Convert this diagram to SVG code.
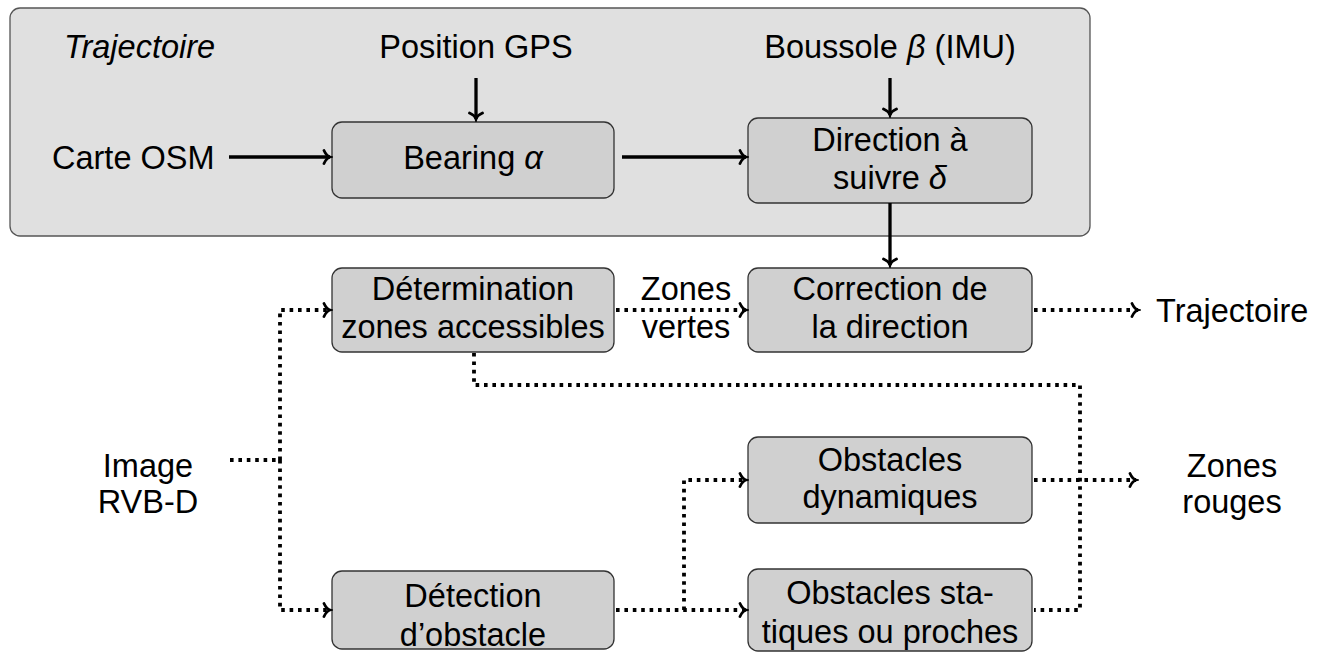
<svg xmlns="http://www.w3.org/2000/svg" width="1319" height="654" viewBox="0 0 1319 654">
<style>
text{font-family:"Liberation Sans",Arial,sans-serif;font-size:32.5px;fill:#000;text-anchor:middle}
.it{font-style:italic}
.box{fill:#d0d0d0;stroke:#333;stroke-width:1.3}
.solid{stroke:#000;stroke-width:3.3;fill:none}
.dot{stroke:#000;stroke-width:3.8;fill:none;stroke-dasharray:3.6 4.8}
</style>
<defs>
<marker id="ah" markerUnits="userSpaceOnUse" viewBox="-8 -8 12 16" refX="1" refY="0" markerWidth="12" markerHeight="16" orient="auto">
<path d="M-5,-6.5 C-3,-2 -1,-0.6 1,0 C-1,0.6 -3,2 -5,6.5" fill="none" stroke="#000" stroke-width="2.8" stroke-linecap="round"/>
</marker>
</defs>
<g id="trajectoire-group">
<rect x="10" y="8" width="1080" height="228" rx="10" fill="#e0e0e0" stroke="#555" stroke-width="1.3"/>
<text x="64" y="58" class="it" style="text-anchor:start">Trajectoire</text>
</g>
<g id="position-gps"><text x="476" y="58">Position GPS</text></g>
<g id="boussole"><text x="890" y="58">Boussole <tspan class="it">β</tspan> (IMU)</text></g>
<g id="carte-osm"><text x="52" y="169" style="text-anchor:start">Carte OSM</text></g>
<g id="bearing"><rect class="box" x="332" y="122" width="282" height="76" rx="10"/><text x="473" y="169">Bearing <tspan class="it">α</tspan></text></g>
<g id="direction"><rect class="box" x="748" y="118" width="284" height="85" rx="10"/><text x="890" y="151">Direction à</text><text x="890" y="189">suivre <tspan class="it">δ</tspan></text></g>
<g id="determination"><rect class="box" x="332" y="268" width="282" height="84" rx="10"/><text x="473" y="300">Détermination</text><text x="473" y="338">zones accessibles</text></g>
<g id="zones-vertes"><text x="686" y="300">Zones</text><text x="686" y="338">vertes</text></g>
<g id="correction"><rect class="box" x="748" y="268" width="284" height="84" rx="10"/><text x="890" y="300">Correction de</text><text x="890" y="338">la direction</text></g>
<g id="trajectoire-out"><text x="1156" y="322" style="text-anchor:start">Trajectoire</text></g>
<g id="image-rvbd"><text x="148" y="477">Image</text><text x="148" y="513">RVB-D</text></g>
<g id="obstacles-dyn"><rect class="box" x="748" y="437" width="284" height="86" rx="10"/><text x="890" y="471">Obstacles</text><text x="890" y="508">dynamiques</text></g>
<g id="zones-rouges"><text x="1232" y="477">Zones</text><text x="1232" y="513">rouges</text></g>
<g id="detection"><rect class="box" x="332" y="571" width="282" height="78" rx="10"/><text x="473" y="607">Détection</text><text x="473" y="646">d’obstacle</text></g>
<g id="obstacles-stat"><rect class="box" x="748" y="569" width="284" height="82" rx="10"/><text x="890" y="604">Obstacles sta-</text><text x="890" y="643">tiques ou proches</text></g>
<g id="connectors">
<path class="solid" d="M476,78 V119" marker-end="url(#ah)"/>
<path class="solid" d="M890,78 V115" marker-end="url(#ah)"/>
<path class="solid" d="M229,157 H330" marker-end="url(#ah)"/>
<path class="solid" d="M622,157 H746" marker-end="url(#ah)"/>
<path class="solid" d="M890,203 V265" marker-end="url(#ah)"/>
<path class="dot" d="M616,310 H746" marker-end="url(#ah)"/>
<path class="dot" d="M1034,310 H1138" marker-end="url(#ah)"/>
<path class="dot" d="M230,460 H280"/>
<path class="dot" d="M280,460 V310 H330" marker-end="url(#ah)"/>
<path class="dot" d="M280,460 V610 H330" marker-end="url(#ah)"/>
<path class="dot" d="M474,353 V385 H1080 V610 H1034"/>
<path class="dot" d="M616,610 H746" marker-end="url(#ah)"/>
<path class="dot" d="M684,610 V480 H746" marker-end="url(#ah)"/>
<path class="dot" d="M1034,480 H1136" marker-end="url(#ah)"/>
</g>
</svg>
